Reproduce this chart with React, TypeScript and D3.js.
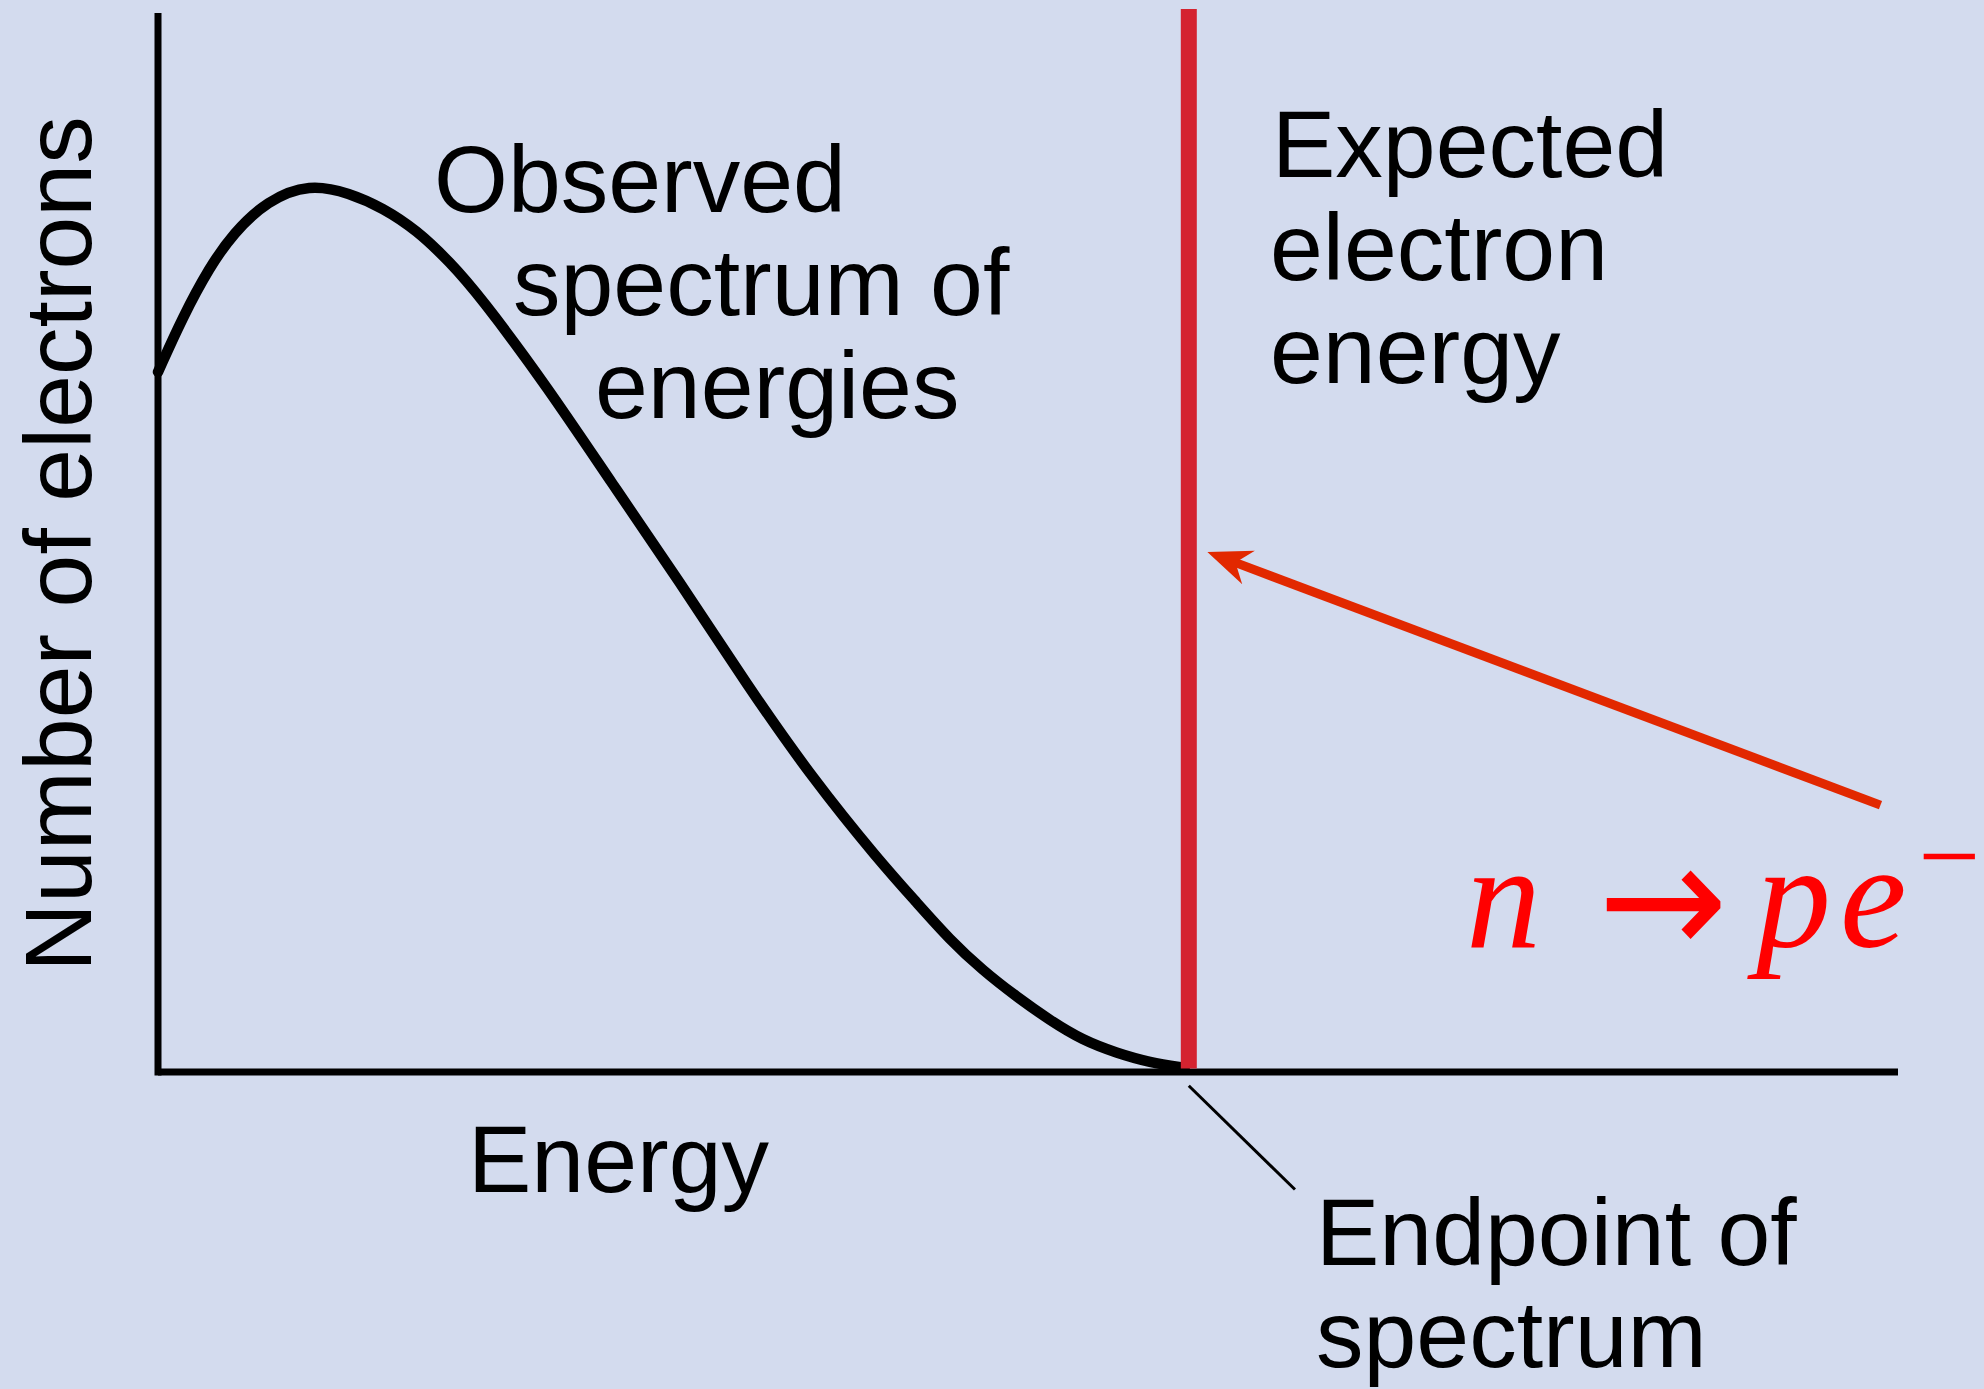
import React from "react";
import * as d3 from "d3";

// Observed beta spectrum (energy relative to endpoint, number of electrons 0..100)
const energy = [0, 0.024, 0.05, 0.073, 0.106, 0.147, 0.186, 0.218, 0.251, 0.283, 0.312, 0.377, 0.441, 0.506, 0.571, 0.635, 0.7, 0.736, 0.768, 0.8, 0.833, 0.865, 0.897, 0.93, 0.962, 0.996];
const electrons = [66.1, 71.3, 76.0, 79.2, 82.3, 83.9, 83.0, 81.6, 79.5, 76.5, 73.3, 64.8, 55.5, 46.3, 36.6, 27.7, 19.9, 16.0, 12.5, 9.6, 7.1, 4.9, 3.0, 1.8, 0.9, 0.4];

const xDomain = [0, 1.688];
const yDomain = [0, 100];
const expectedEnergy = [1.0];
const arrowFrom = [1.671, 25.2];
const arrowTo = [1.018, 49.1];
const leaderFrom = [1.0, -1.3];
const leaderTo = [1.103, -11.1];

const W = 1984;
const H = 1389;
const FONT = "'Liberation Sans', Arial, Helvetica, sans-serif";
const SERIF = "'Liberation Serif', 'Times New Roman', serif";

export default function App() {
  const x = d3.scaleLinear().domain(xDomain).range([158, 1898]);
  const y = d3.scaleLinear().domain(yDomain).range([1072, 13]);

  const pts = energy.map((e, i) => [e, electrons[i]] as [number, number]);
  const line = d3
    .line<[number, number]>()
    .x((d) => x(d[0]))
    .y((d) => y(d[1]))
    .curve(d3.curveBasis);

  // arrow geometry
  const tx = x(arrowTo[0]);
  const ty = y(arrowTo[1]);
  const fx = x(arrowFrom[0]);
  const fy = y(arrowFrom[1]);
  const dx = tx - fx;
  const dy = ty - fy;
  const len = Math.hypot(dx, dy);
  const ux = dx / len;
  const uy = dy / len;
  const px = -uy;
  const py = ux;
  const headL = 44;
  const headW = 18;
  const notch = 30;
  const bx = tx - ux * headL;
  const by = ty - uy * headL;
  const nx = tx - ux * notch;
  const ny = ty - uy * notch;
  const head = `M${tx},${ty} L${bx + px * headW},${by + py * headW} L${nx},${ny} L${bx - px * headW},${by - py * headW} Z`;

  const textStyle = { fontFamily: FONT, fontSize: 95, fill: "#000" } as const;

  return (
    <svg
      width={W}
      height={H}
      style={{ position: "absolute", left: 0, top: 0, display: "block" }}
    >
      <rect x={0} y={0} width={W} height={H} fill="#d3dbee" />

      {/* axes */}
      <line x1={x(0)} y1={y(0)} x2={x(xDomain[1])} y2={y(0)} stroke="#000" strokeWidth={7} />
      <line x1={x(0)} y1={y(0) + 3.5} x2={x(0)} y2={y(yDomain[1])} stroke="#000" strokeWidth={7} />

      {/* observed spectrum */}
      <path d={line(pts) || ""} fill="none" stroke="#000" strokeWidth={10.5} strokeLinecap="round" strokeLinejoin="round" />

      {/* expected energy line */}
      {expectedEnergy.map((e, i) => (
        <line key={i} x1={x(e)} y1={y(0) - 3.5} x2={x(e)} y2={9} stroke="#d42330" strokeWidth={16} />
      ))}

      {/* leader line to endpoint label */}
      <line
        x1={x(leaderFrom[0])}
        y1={y(leaderFrom[1])}
        x2={x(leaderTo[0])}
        y2={y(leaderTo[1])}
        stroke="#000"
        strokeWidth={3}
      />

      {/* red arrow */}
      <line x1={fx} y1={fy} x2={nx + ux * 2} y2={ny + uy * 2} stroke="#e22800" strokeWidth={9} />
      <path d={head} fill="#e22800" />

      {/* texts */}
      <text x={434} y={212} style={textStyle}>Observed</text>
      <text x={513} y={315} style={textStyle}>spectrum of</text>
      <text x={595} y={418} style={textStyle}>energies</text>

      <text x={1272} y={177} style={textStyle}>Expected</text>
      <text x={1270} y={280} style={textStyle}>electron</text>
      <text x={1270} y={383} style={textStyle}>energy</text>

      <text x={468} y={1192} style={textStyle}>Energy</text>

      <text x={1316} y={1265} style={textStyle}>Endpoint of</text>
      <text x={1316} y={1367} style={textStyle}>spectrum</text>

      <text
        transform="translate(91,544) rotate(-90)"
        textAnchor="middle"
        style={textStyle}
      >
        Number of electrons
      </text>

      {/* formula n -> p e^- */}
      <g fill="#ff0000" style={{ fontFamily: SERIF, fontStyle: "italic" }}>
        <text x={1466} y={947} fontSize={150}>n</text>
        <text
          x={1598}
          y={955}
          fontSize={160}
          fontStyle="normal"
          fontFamily="'DejaVu Sans', sans-serif"
          textLength={130}
          lengthAdjust="spacingAndGlyphs"
        >
          →
        </text>
        <text x={1756} y={947} fontSize={150}>p</text>
        <text x={1840} y={947} fontSize={150}>e</text>
        <text x={1918} y={893} fontSize={110} fontStyle="normal">−</text>
      </g>
    </svg>
  );
}
